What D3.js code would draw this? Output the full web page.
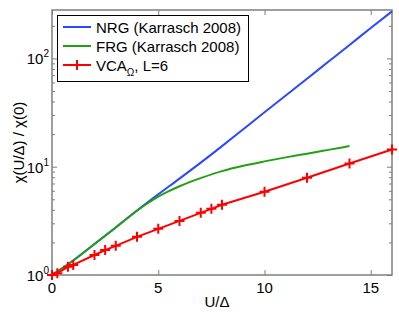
<!DOCTYPE html>
<html>
<head>
<meta charset="utf-8">
<script src="https://cdnjs.cloudflare.com/ajax/libs/d3/7.8.5/d3.min.js"></script>
<style>
  body { margin: 0; background: #fff; }
  svg { display: block; font-family: "Liberation Sans", Arial, sans-serif; }
</style>
</head>
<body>
<svg width="399" height="314"></svg>
<script>
// data
var nrgU   = [0, 0.5, 1, 2, 3, 4, 5, 6, 7, 8, 9, 10, 11, 12, 13, 14, 15, 16];
var nrgChi = [1, 1.16, 1.36, 1.93, 2.75, 3.94, 5.56, 7.76, 10.9, 15.5, 22.2, 31.8, 45.5, 65, 93, 133, 191, 272];

var frgU   = [0, 0.5, 1, 2, 3, 4, 4.5, 5, 5.5, 6, 6.5, 7, 8, 9, 10, 11, 12, 13, 14];
var frgChi = [1, 1.16, 1.36, 1.93, 2.75, 3.92, 4.6, 5.3, 5.95, 6.6, 7.25, 7.85, 9.1, 10.2, 11.2, 12.2, 13.2, 14.3, 15.5];

var vcaU   = [0, 0.25, 0.75, 1, 2, 2.5, 3, 4, 5, 6, 7, 7.5, 8, 10, 12, 14, 16];
var vcaChi = [1, 1.04, 1.19, 1.24, 1.53, 1.70, 1.86, 2.25, 2.67, 3.16, 3.75, 4.08, 4.45, 5.87, 7.91, 10.7, 14.4];

var xTicks = [0, 5, 10, 15];
var yTicks = [1, 10, 100];
var yExp   = ["0", "1", "2"];

var legendNames = ["NRG (Karrasch 2008)", "FRG (Karrasch 2008)", "VCA"];
var colors = ["#2a48ff", "#22a011", "#ff0000"];

//grabbing elements
var svg = d3.select("svg"),
    pLeft = 52, pRight = 392, pTop = 10, pBottom = 275;

var x = d3.scaleLinear().domain([0, 16]).range([pLeft, pRight]);
var y = d3.scaleLog().domain([1, 280]).range([pBottom, pTop]);

var axisColor = "#7f7f7f";

//minor log ticks
var minor = [];
[1, 10, 100].forEach(function(d) {
  for (var k = 2; k <= 9; k++) if (d * k <= 280) minor.push(d * k);
});

function styleAxis(g) {
  g.select(".domain").remove();
  g.selectAll(".tick line").attr("stroke", axisColor).attr("stroke-width", 1);
  g.selectAll("text").remove();
}

svg.append("g").attr("transform", "translate(0," + pBottom + ")")
  .call(d3.axisBottom(x).tickValues(xTicks).tickSize(-5)).call(styleAxis);
svg.append("g").attr("transform", "translate(0," + pTop + ")")
  .call(d3.axisTop(x).tickValues(xTicks).tickSize(-5)).call(styleAxis);
svg.append("g").attr("transform", "translate(" + pLeft + ",0)")
  .call(d3.axisLeft(y).tickValues(yTicks).tickSize(-5)).call(styleAxis);
svg.append("g").attr("transform", "translate(" + pRight + ",0)")
  .call(d3.axisRight(y).tickValues(yTicks).tickSize(-5)).call(styleAxis);
svg.append("g").attr("transform", "translate(" + pLeft + ",0)")
  .call(d3.axisLeft(y).tickValues(minor).tickSize(-3)).call(styleAxis);
svg.append("g").attr("transform", "translate(" + pRight + ",0)")
  .call(d3.axisRight(y).tickValues(minor).tickSize(-3)).call(styleAxis);

//box
svg.append("rect")
  .attr("x", pLeft).attr("y", pTop)
  .attr("width", pRight - pLeft).attr("height", pBottom - pTop)
  .attr("fill", "none").attr("stroke", axisColor).attr("stroke-width", 1.5);

//tick labels
svg.selectAll(".xlab").data(xTicks).enter().append("text")
  .attr("x", function(d) { return x(d); })
  .attr("y", pBottom + 18)
  .attr("text-anchor", "middle")
  .attr("font-size", 15)
  .text(function(d) { return d; });

var ylab = svg.selectAll(".ylab").data(yTicks).enter().append("text")
  .attr("x", pLeft - 3)
  .attr("y", function(d) { return y(d) + 6; })
  .attr("text-anchor", "end")
  .attr("font-size", 15);
ylab.append("tspan").text("10");
ylab.append("tspan").attr("font-size", 10).attr("dy", -7)
  .text(function(d, i) { return yExp[i]; });

//axis labels
svg.append("text")
  .attr("x", 217).attr("y", 307)
  .attr("text-anchor", "middle").attr("font-size", 15)
  .text("U/Δ");
svg.append("text")
  .attr("transform", "translate(24," + ((pTop + pBottom) / 2) + ") rotate(-90)")
  .attr("text-anchor", "middle").attr("font-size", 15)
  .text("χ(U/Δ) / χ(0)");

//lines
var line = d3.line()
  .x(function(d) { return x(d[0]); })
  .y(function(d) { return y(d[1]); });

var series = [d3.zip(nrgU, nrgChi), d3.zip(frgU, frgChi), d3.zip(vcaU, vcaChi)];

svg.selectAll(".series").data(series).enter().append("path")
  .attr("d", function(d, i) { return i == 2 ? line.curve(d3.curveLinear)(d) : line.curve(d3.curveMonotoneX)(d); })
  .attr("fill", "none")
  .attr("stroke", function(d, i) { return colors[i]; })
  .attr("stroke-width", 2);

//plus markers
function plusPath(s) {
  return "M" + (-s) + ",0H" + s + "M0," + (-s) + "V" + s;
}
svg.selectAll(".mk").data(series[2]).enter().append("path")
  .attr("transform", function(d) { return "translate(" + x(d[0]) + "," + y(d[1]) + ")"; })
  .attr("d", plusPath(5))
  .attr("stroke", colors[2])
  .attr("stroke-width", 2);

//legend
var lg = svg.append("g");
lg.append("rect")
  .attr("x", 57.5).attr("y", 15.5).attr("width", 191).attr("height", 66)
  .attr("fill", "#fff").attr("stroke", "#000").attr("stroke-width", 1);

var rows = [27, 46, 65];
rows.forEach(function(ry, i) {
  lg.append("line")
    .attr("x1", 63).attr("x2", 91).attr("y1", ry).attr("y2", ry)
    .attr("stroke", colors[i]).attr("stroke-width", 2);
  var t = lg.append("text")
    .attr("x", 96).attr("y", ry + 5.5)
    .attr("font-size", 15);
  t.append("tspan").text(legendNames[i]);
  if (i == 2) {
    t.append("tspan").attr("font-size", 10).attr("dy", 5).text("Ω");
    t.append("tspan").attr("dy", -5).text(", L=6");
  }
});
lg.append("path")
  .attr("transform", "translate(77," + rows[2] + ")")
  .attr("d", plusPath(5))
  .attr("stroke", colors[2]).attr("stroke-width", 2);
</script>
</body>
</html>
